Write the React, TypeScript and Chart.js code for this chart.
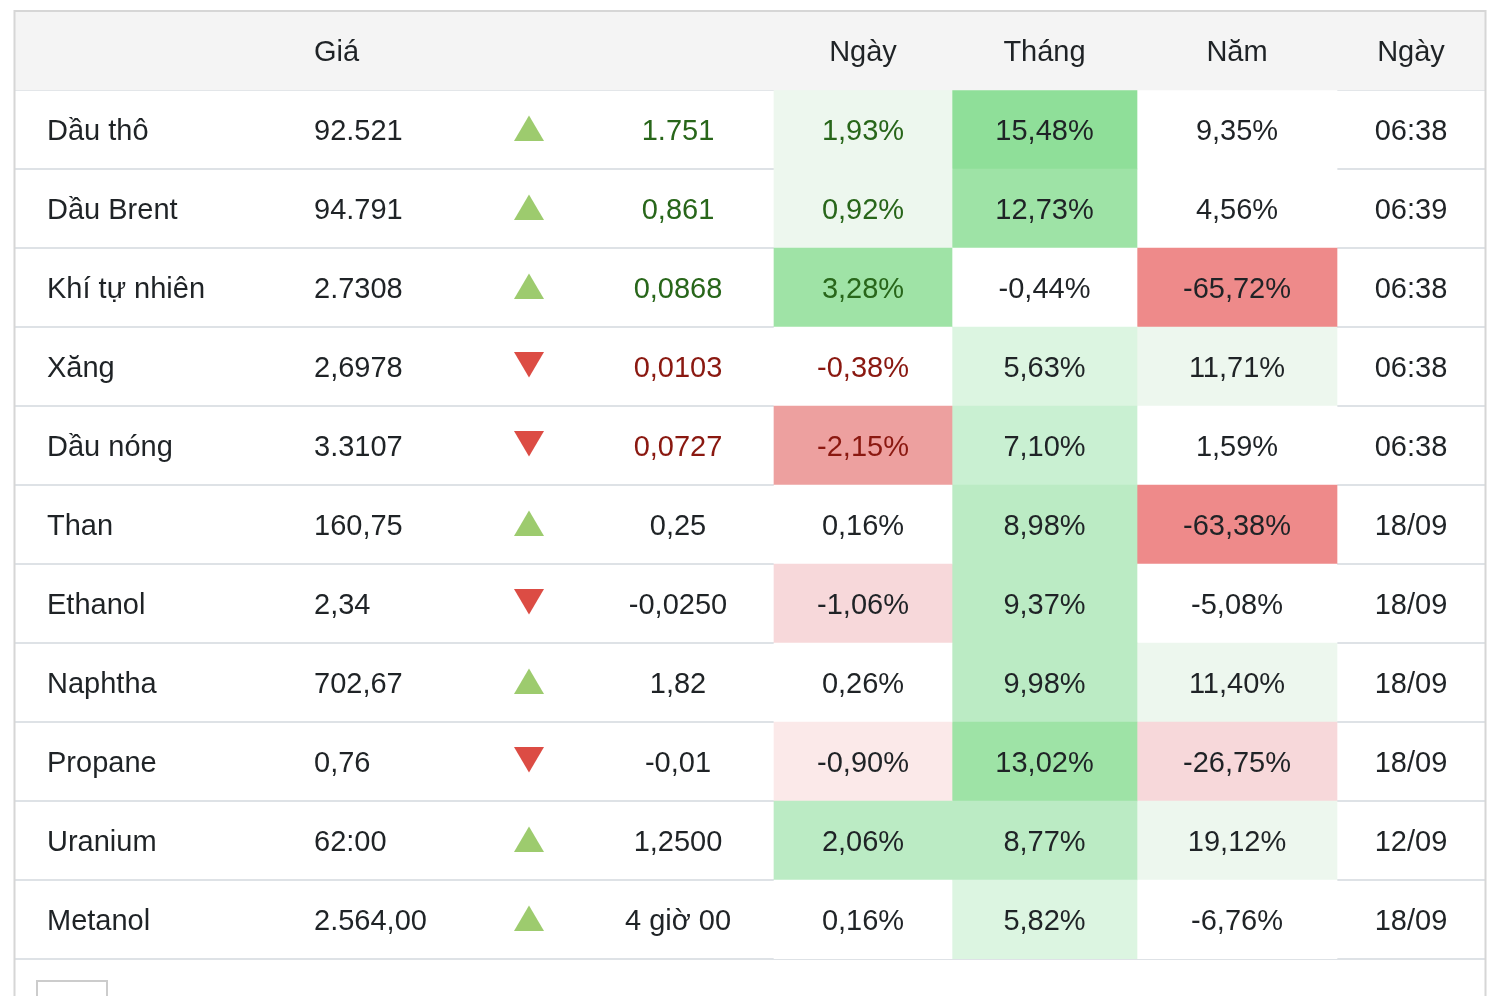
import { useEffect, useRef } from 'react';
import { Chart, registerables } from 'chart.js';

Chart.register(...registerables);

// ---------- data ----------
const commodities = ['Dầu thô', 'Dầu Brent', 'Khí tự nhiên', 'Xăng', 'Dầu nóng', 'Than', 'Ethanol', 'Naphtha', 'Propane', 'Uranium', 'Metanol'];
const prices = ['92.521', '94.791', '2.7308', '2,6978', '3.3107', '160,75', '2,34', '702,67', '0,76', '62:00', '2.564,00'];
const directions = ['up', 'up', 'up', 'down', 'down', 'up', 'down', 'up', 'down', 'up', 'up'];
const changes = ['1.751', '0,861', '0,0868', '0,0103', '0,0727', '0,25', '-0,0250', '1,82', '-0,01', '1,2500', '4 giờ 00'];
const dayPct = ['1,93%', '0,92%', '3,28%', '-0,38%', '-2,15%', '0,16%', '-1,06%', '0,26%', '-0,90%', '2,06%', '0,16%'];
const monthPct = ['15,48%', '12,73%', '-0,44%', '5,63%', '7,10%', '8,98%', '9,37%', '9,98%', '13,02%', '8,77%', '5,82%'];
const yearPct = ['9,35%', '4,56%', '-65,72%', '11,71%', '1,59%', '-63,38%', '-5,08%', '11,40%', '-26,75%', '19,12%', '-6,76%'];
const times = ['06:38', '06:39', '06:38', '06:38', '06:38', '18/09', '18/09', '18/09', '18/09', '12/09', '18/09'];
const headerPrice = 'Giá';
const headerDay = 'Ngày';
const headerMonth = 'Tháng';
const headerYear = 'Năm';
const headerTime = 'Ngày';

// ---------- styles ----------
const dayFills = ['#edf7ee', '#edf7ee', '#9fe3a6', '#ffffff', '#eda09f', '#ffffff', '#f7d8da', '#ffffff', '#fbe9e9', '#bbebc4', '#ffffff'];
const monthFills = ['#8fdf99', '#9ee3a6', '#ffffff', '#dcf5e1', '#c9f0d2', '#bbebc4', '#bbebc4', '#bbebc4', '#9ee3a6', '#bbebc4', '#dcf5e1'];
const yearFills = ['#ffffff', '#ffffff', '#ee8a8a', '#edf7ee', '#ffffff', '#ee8a8a', '#ffffff', '#edf7ee', '#f7d8da', '#edf7ee', '#ffffff'];

const FONT = '"Liberation Sans", Arial, Helvetica, sans-serif';
const TEXT = '#1f2326';
const UP_TEXT = '#28661a';
const DOWN_TEXT = '#8a1810';
const UP_ARROW = '#9dcb6e';
const DOWN_ARROW = '#dc4c44';
const LINE = '#dee2e6';
const OUTER = '#d6d6d6';
const HEADER_BG = '#f4f4f4';

// column layout in table units (table is 1471 wide)
const TABLE_W = 1471;
const NAME_LEFT = 32;
const PRICE_LEFT = 299;
const ARROW_C = 514;
const CHANGE_C = 663;
const DAY_COL = [759, 937];
const MONTH_COL = [937, 1122];
const YEAR_COL = [1122, 1322];
const TIME_C = 1396;

const labels = ['', ...commodities];

export default function App() {
  const ref = useRef<HTMLCanvasElement | null>(null);

  useEffect(() => {
    if (!ref.current) return;
    const col = (c: number[]) => [null, ...commodities.map(() => [c[0], c[1]])];

    const tablePlugin = {
      id: 'tableText',
      afterDatasetsDraw(chart: any) {
        const { ctx } = chart;
        const xs = chart.scales.x;
        const ys = chart.scales.y;
        ctx.save();
        ctx.font = `29px ${FONT}`;
        ctx.textBaseline = 'middle';
        const put = (t: string, xv: number, y: number, align: CanvasTextAlign, color: string) => {
          ctx.fillStyle = color;
          ctx.textAlign = align;
          ctx.fillText(t, xs.getPixelForValue(xv), y);
        };
        // header
        const hy = ys.getPixelForValue(0) + 2;
        put(headerPrice, PRICE_LEFT, hy, 'left', TEXT);
        put(headerDay, (DAY_COL[0] + DAY_COL[1]) / 2, hy, 'center', TEXT);
        put(headerMonth, (MONTH_COL[0] + MONTH_COL[1]) / 2, hy, 'center', TEXT);
        put(headerYear, (YEAR_COL[0] + YEAR_COL[1]) / 2, hy, 'center', TEXT);
        put(headerTime, TIME_C, hy, 'center', TEXT);
        // rows
        commodities.forEach((name, i) => {
          const cy = ys.getPixelForValue(i + 1);
          const y = cy + 2.5;
          const live = times[i].includes(':');
          const up = directions[i] === 'up';
          const tone = live ? (up ? UP_TEXT : DOWN_TEXT) : TEXT;
          put(name, NAME_LEFT, y, 'left', TEXT);
          put(prices[i], PRICE_LEFT, y, 'left', TEXT);
          put(changes[i], CHANGE_C, y, 'center', tone);
          put(dayPct[i], (DAY_COL[0] + DAY_COL[1]) / 2, y, 'center', tone);
          put(monthPct[i], (MONTH_COL[0] + MONTH_COL[1]) / 2, y, 'center', TEXT);
          put(yearPct[i], (YEAR_COL[0] + YEAR_COL[1]) / 2, y, 'center', TEXT);
          put(times[i], TIME_C, y, 'center', TEXT);
          // arrow
          const ax = xs.getPixelForValue(ARROW_C);
          ctx.beginPath();
          if (up) {
            ctx.moveTo(ax - 15, cy + 11.5);
            ctx.lineTo(ax + 15, cy + 11.5);
            ctx.lineTo(ax, cy - 14);
            ctx.fillStyle = UP_ARROW;
          } else {
            ctx.moveTo(ax - 15, cy - 14.5);
            ctx.lineTo(ax + 15, cy - 14.5);
            ctx.lineTo(ax, cy + 11);
            ctx.fillStyle = DOWN_ARROW;
          }
          ctx.closePath();
          ctx.fill();
        });
        ctx.restore();
      },
      afterDraw(chart: any) {
        const { ctx, chartArea } = chart;
        ctx.save();
        ctx.strokeStyle = OUTER;
        ctx.lineWidth = 2;
        ctx.beginPath();
        ctx.moveTo(chartArea.left - 0.5, chartArea.top - 1);
        ctx.lineTo(chartArea.left - 0.5, chart.height);
        ctx.moveTo(chartArea.right - 0.5, chartArea.top - 1);
        ctx.lineTo(chartArea.right - 0.5, chart.height);
        ctx.moveTo(chartArea.left - 1.5, chartArea.top);
        ctx.lineTo(chartArea.right + 0.5, chartArea.top);
        ctx.stroke();
        // partially visible control below the table
        ctx.strokeStyle = '#cccccc';
        ctx.strokeRect(chartArea.left + 22, chartArea.bottom + 22, 70, 30);
        ctx.restore();
      },
    };

    const barCommon = {
      grouped: false,
      barPercentage: 1,
      categoryPercentage: 1,
      borderWidth: 0,
      borderSkipped: false,
    };

    const zeroFit = (s: any) => {
      if (s.isHorizontal()) s.height = 0;
      else s.width = 0;
      s.paddingTop = 0;
      s.paddingBottom = 0;
      s.paddingLeft = 0;
      s.paddingRight = 0;
    };

    const chart = new Chart(ref.current, {
      type: 'bar',
      data: {
        labels,
        datasets: [
          { ...barCommon, label: 'header', data: [[0, TABLE_W], ...commodities.map(() => null)] as any, backgroundColor: HEADER_BG },
          { ...barCommon, label: headerDay, data: col(DAY_COL) as any, backgroundColor: ['rgba(0,0,0,0)', ...dayFills] },
          { ...barCommon, label: headerMonth, data: col(MONTH_COL) as any, backgroundColor: ['rgba(0,0,0,0)', ...monthFills] },
          { ...barCommon, label: headerYear, data: col(YEAR_COL) as any, backgroundColor: ['rgba(0,0,0,0)', ...yearFills] },
        ],
      },
      options: {
        indexAxis: 'y',
        animation: false,
        responsive: false,
        events: [],
        layout: { padding: { left: 15, right: 16, top: 11, bottom: 37 } },
        plugins: { legend: { display: false }, tooltip: { enabled: false }, title: { display: false } },
        scales: {
          x: { type: 'linear', min: 0, max: TABLE_W, display: false, afterFit: zeroFit },
          y: {
            type: 'category',
            position: 'left',
            z: 1,
            afterFit: zeroFit,
            border: { display: false },
            grid: {
              offset: true,
              drawTicks: false,
              lineWidth: 2,
              color: (c: any) => (c.index === 0 ? OUTER : LINE),
            },
            ticks: { display: false },
          },
        },
      },
      plugins: [tablePlugin],
    } as any);
    return () => chart.destroy();
  }, []);

  return (
    <div style={{ position: 'absolute', left: 0, top: 0, width: 1502, height: 996, background: '#fff' }}>
      <canvas ref={ref} width={1502} height={996} style={{ display: 'block' }} />
    </div>
  );
}
